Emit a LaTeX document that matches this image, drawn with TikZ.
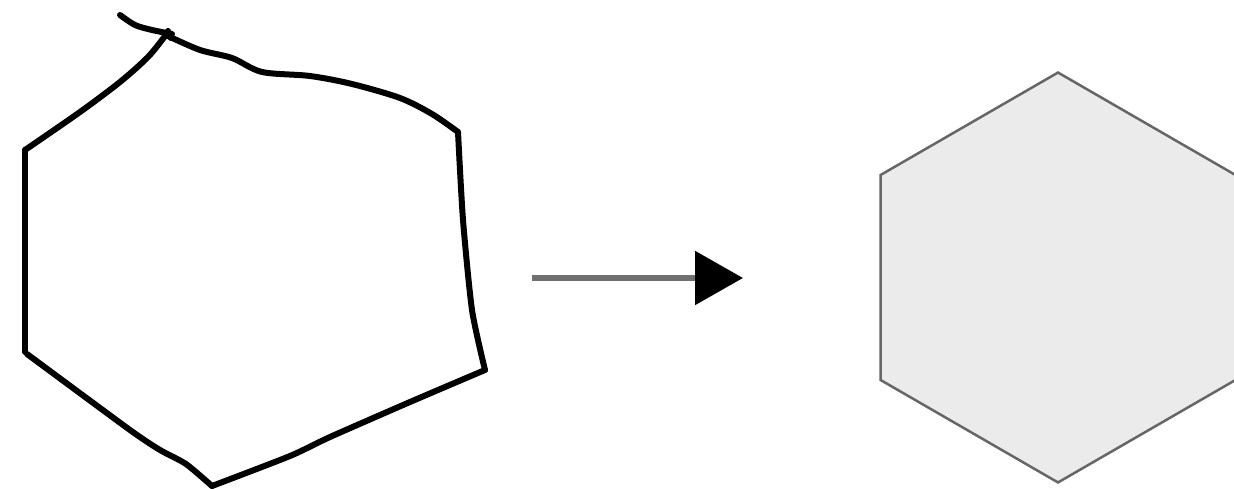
\documentclass[tikz,border=0pt]{standalone}
\usetikzlibrary{arrows.meta,shapes.geometric}

\definecolor{strokegray}{HTML}{707070}
\definecolor{hexfill}{HTML}{EBEBEB}
\definecolor{hexline}{HTML}{666666}

\tikzset{
    sketchline/.style={line width=0.12cm, black, line cap=round, line join=round},
    cleanhex/.style={regular polygon, regular polygon sides=6, shape border rotate=30,
        minimum size=8.2cm, inner sep=0pt, fill=hexfill, draw=hexline, line width=0.05cm},
    convert/.style={line width=0.11cm, strokegray,
        -{Triangle[length=0.96cm, width=1.06cm, color=black]}}
}

\begin{document}
\begin{tikzpicture}[x=0.02cm, y=-0.02cm]
    \useasboundingbox (0,0) rectangle (1234,489);

    % Hand-drawn hexagon
    \draw[sketchline] plot[smooth, tension=0.5] coordinates
        {(120,15) (135,25) (152,30) (172,34)};
    \draw[sketchline] (168,31) -- (171,38);
    \draw[sketchline] plot[smooth, tension=0.5] coordinates
        {(168,36) (200,50) (232,58) (262,72) (310,76) (352,84) (400,98) (432,114) (458,132)};
    \draw[sketchline] plot[smooth, tension=0.4] coordinates
        {(458,132) (463,220) (472,310) (485,370)};
    \draw[sketchline] plot[smooth, tension=0.4] coordinates
        {(485,370) (410,402) (330,437) (290,456) (212,486)};
    \draw[sketchline] plot[smooth, tension=0.4] coordinates
        {(212,486) (186,464) (160,450) (130,430) (27,354)};
    \draw[sketchline] (25,352) -- (25,150);
    \draw[sketchline] plot[smooth, tension=0.5] coordinates
        {(25,150) (80,112) (120,82) (148,57) (165,36)};

    % Clean hexagon
    \node[cleanhex] (hexa) at (1058,277.5) {};

    % Conversion arrow
    \coordinate (arrowstart) at (532,278);
    \coordinate (arrowend) at (743,278);
    \draw[convert] (arrowstart) -- (arrowend);
\end{tikzpicture}
\end{document}
